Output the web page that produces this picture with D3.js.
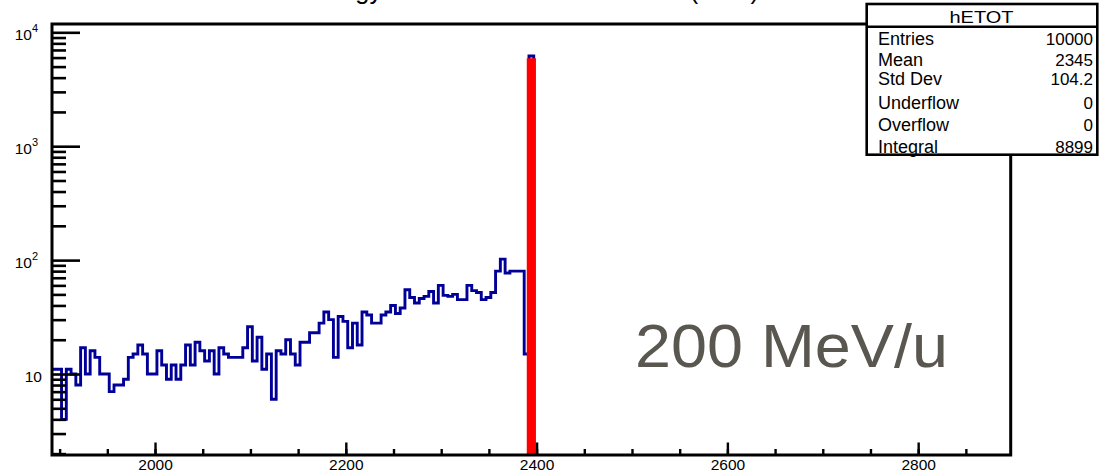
<!DOCTYPE html>
<html>
<head>
<meta charset="utf-8">
<script src="https://cdn.jsdelivr.net/npm/d3@7/dist/d3.min.js"></script>
<style>
  body { margin: 0; background: #fff; }
  svg { display: block; }
  text { font-family: "Liberation Sans", Arial, Helvetica, sans-serif; }
</style>
</head>
<body>
<svg id="chart" width="1099" height="476"></svg>
<script>
// ---- histogram hETOT: total energy, 5-unit bins starting at 1892 ----
const binLow = 1892;
const binWidth = 5;
const counts = [
  11, 11, 4, 11, 10, 8, 17, 10, 16, 14,
  10, 10, 7, 8, 8, 9, 14, 15, 18, 15,
  10, 10, 16, 12, 9, 12, 9, 12, 18, 12,
  19, 16, 13, 16, 10, 17, 15, 14, 14, 14,
  17, 26, 13, 21, 11, 15, 6, 16, 15, 20,
  15, 12, 19, 19, 23, 23, 28, 35, 30, 14,
  32, 29, 17, 28, 18, 35, 33, 28, 28, 33,
  35, 40, 34, 38, 55, 47, 42, 46, 48, 53,
  42, 60, 49, 48, 50, 45, 45, 60, 54, 52,
  45, 47, 52, 80, 102, 77, 80, 80, 80, 15,
  6200
];
// selected events in the full-energy peak (red)
const peakBinLow = 2392;
const peakCounts = [5650];

// ---- axes ----
const xRange = [1892, 2897];
const yRange = [1.945, 11830];
const xMajorTicks = [2000, 2200, 2400, 2600, 2800];
const xTickLabels = ["2000", "2200", "2400", "2600", "2800"];
const yMajorTicks = [10, 100, 1000, 10000];
const yTickLabels = [["10", ""], ["10", "2"], ["10", "3"], ["10", "4"]];

// ---- statistics box ----
const statsTitle = "hETOT";
const statsLabels = ["Entries", "Mean", "Std Dev", "Underflow", "Overflow", "Integral"];
const statsValues = ["10000", "2345", "104.2", "0", "0", "8899"];

const titleText = "Total Energy Loss in the Scintillator Bar (MeV)";
const beamLabel = "200 MeV/u";

// ---- layout ----
const frame = { left: 52, right: 1010.7, top: 24, bottom: 455 };
const svg = d3.select("#chart");

const x = d3.scaleLinear().domain(xRange).range([frame.left, frame.right]);
const y = d3.scaleLog().domain(yRange).range([frame.bottom, frame.top]);
const yOf = v => (v > 0 ? y(v) : frame.bottom + 6);

svg.append("rect").attr("width", 1099).attr("height", 476).attr("fill", "#fff");

// title, mostly above the visible area
svg.append("text")
  .attr("x", 241).attr("y", -1)
  .attr("font-size", 25)
  .attr("textLength", 518).attr("lengthAdjust", "spacingAndGlyphs")
  .text(titleText);

svg.append("clipPath").attr("id", "plotClip")
  .append("rect")
  .attr("x", frame.left).attr("y", frame.top)
  .attr("width", frame.right - frame.left).attr("height", frame.bottom - frame.top);

const plot = svg.append("g").attr("clip-path", "url(#plotClip)");

// blue outline histogram
const pts = counts.map((c, i) => [binLow + i * binWidth, c]);
const lastEdge = binLow + counts.length * binWidth;
pts.push([lastEdge, counts[counts.length - 1]]);
pts.push([lastEdge, 0]);
pts.push([xRange[1] + binWidth, 0]);

const stepLine = d3.line()
  .x(d => x(d[0]))
  .y(d => yOf(d[1]))
  .curve(d3.curveStepAfter);

plot.append("path")
  .attr("d", stepLine(pts))
  .attr("fill", "none")
  .attr("stroke", "#000099")
  .attr("stroke-width", 2.9)
  .attr("stroke-linejoin", "miter");

// red filled peak histogram
const peakPts = peakCounts.map((c, i) => [peakBinLow + i * binWidth, c]);
peakPts.push([peakBinLow + peakCounts.length * binWidth, peakCounts[peakCounts.length - 1]]);
const stepArea = d3.area()
  .x(d => x(d[0]))
  .y0(frame.bottom + 6)
  .y1(d => yOf(d[1]))
  .curve(d3.curveStepAfter);

plot.append("path")
  .attr("d", stepArea(peakPts))
  .attr("fill", "#ff0000")
  .attr("stroke", "#ff0000")
  .attr("stroke-width", 4.4);

// x axis: minor ticks every 50, major every 200 (ticks point inward)
const xMinor = d3.axisBottom(x)
  .tickValues(d3.range(1900, xRange[1], 50))
  .tickSizeInner(-6).tickSizeOuter(0).tickFormat("");
const xMajor = d3.axisBottom(x)
  .tickValues(xMajorTicks)
  .tickSizeInner(-12.5).tickSizeOuter(0).tickPadding(4)
  .tickFormat((d, i) => xTickLabels[i]);

[xMinor, xMajor].forEach(ax => {
  const g = svg.append("g")
    .attr("transform", `translate(0,${frame.bottom})`)
    .call(ax);
  g.select(".domain").remove();
  g.selectAll(".tick line").attr("stroke", "#000").attr("stroke-width", 2.4);
  g.selectAll(".tick text")
    .attr("font-size", 15.5)
    .attr("font-family", "'Liberation Sans', Arial, Helvetica, sans-serif")
    .attr("fill", "#000");
});

// y axis: log ticks pointing inward
const yMinorVals = [];
[1, 10, 100, 1000].forEach(dec => d3.range(2, 10).forEach(k => {
  const v = k * dec;
  if (v > yRange[0] && v < yRange[1]) yMinorVals.push(v);
}));
const yMinor = d3.axisLeft(y).tickValues(yMinorVals)
  .tickSizeInner(-14).tickSizeOuter(0).tickFormat("");
const yMajor = d3.axisLeft(y).tickValues(yMajorTicks)
  .tickSizeInner(-28).tickSizeOuter(0).tickFormat("");

[yMinor, yMajor].forEach(ax => {
  const g = svg.append("g")
    .attr("transform", `translate(${frame.left},0)`)
    .call(ax);
  g.select(".domain").remove();
  g.selectAll(".tick line").attr("stroke", "#000").attr("stroke-width", 2.6);
});

// y tick labels with superscript exponents
yMajorTicks.forEach((v, i) => {
  const [base, exp] = yTickLabels[i];
  const t = svg.append("text")
    .attr("x", exp ? 38 : 42)
    .attr("y", y(v) + 7.5)
    .attr("text-anchor", "end")
    .attr("font-size", 15.5)
    .attr("fill", "#000");
  t.append("tspan").text(base);
  if (exp) {
    t.append("tspan").attr("font-size", 11).attr("dy", -7.5).text(exp);
  }
});

// frame
svg.append("rect")
  .attr("x", frame.left).attr("y", frame.top)
  .attr("width", frame.right - frame.left).attr("height", frame.bottom - frame.top)
  .attr("fill", "none").attr("stroke", "#000").attr("stroke-width", 3);

// beam energy annotation
svg.append("text")
  .attr("x", 635).attr("y", 366.7)
  .attr("font-size", 61)
  .attr("fill", "#5a5650")
  .attr("textLength", 313).attr("lengthAdjust", "spacingAndGlyphs")
  .text(beamLabel);

// statistics box
const box = { x: 866.7, y: 4, w: 230.6, h: 150.7, header: 26.7 };
const sb = svg.append("g");
sb.append("rect")
  .attr("x", box.x).attr("y", box.y).attr("width", box.w).attr("height", box.h)
  .attr("fill", "#fff");
sb.append("text")
  .attr("x", box.x + box.w / 2 - 0.5).attr("y", 23.3)
  .attr("text-anchor", "middle")
  .attr("font-size", 16)
  .attr("textLength", 64).attr("lengthAdjust", "spacingAndGlyphs")
  .text(statsTitle);
const rowY = [45, 66, 85, 108.5, 130.5, 152.5];
statsLabels.forEach((lab, i) => {
  sb.append("text").attr("x", 878).attr("y", rowY[i])
    .attr("font-size", 18).text(lab);
  sb.append("text").attr("x", 1093).attr("y", rowY[i])
    .attr("text-anchor", "end")
    .attr("font-size", 17).text(statsValues[i]);
});
sb.append("line")
  .attr("x1", box.x).attr("x2", box.x + box.w)
  .attr("y1", box.header).attr("y2", box.header)
  .attr("stroke", "#000").attr("stroke-width", 2.4);
sb.append("rect")
  .attr("x", box.x).attr("y", box.y).attr("width", box.w).attr("height", box.h)
  .attr("fill", "none").attr("stroke", "#000").attr("stroke-width", 2.6);
</script>
</body>
</html>
